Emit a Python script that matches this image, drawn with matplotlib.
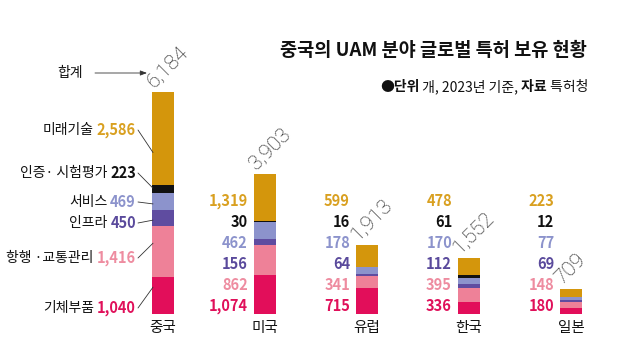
import matplotlib
matplotlib.use("Agg")
import matplotlib.pyplot as plt
from matplotlib import transforms as mtransforms
import numpy as np

plt.rcParams['font.family'] = ['Noto Sans CJK KR', 'DejaVu Sans']

countries = ["중국", "미국", "유럽", "한국", "일본"]
segments = ["기체부품", "항행·교통관리", "인프라", "서비스", "인증·시험평가", "미래기술"]
china_names = ["기체부품", "항행 ·교통관리", "인프라", "서비스", "인증· 시험평가", "미래기술"]
values = {
    "기체부품":      [1040, 1074, 715, 336, 180],
    "항행·교통관리": [1416, 862, 341, 395, 148],
    "인프라":        [450, 156, 64, 112, 69],
    "서비스":        [469, 462, 178, 170, 77],
    "인증·시험평가": [223, 30, 16, 61, 12],
    "미래기술":      [2586, 1319, 599, 478, 223],
}
totals = [6184, 3903, 1913, 1552, 709]

bar_colors = ["#E20E5A", "#EE8198", "#5F4CA0", "#8C93CC", "#111111", "#D4960C"]
text_colors = ["#E0105A", "#EE8CA0", "#5A4A9C", "#8C93CC", "#111111", "#D9A020"]

fig = plt.figure(figsize=(6.4, 3.48), dpi=100)
ax = fig.add_axes([0, 34/348, 1, 251/348])
ax.set_xlim(-163/102, (640-163)/102)
ax.set_ylim(0, 7000)
ax.axis('off')

x = np.arange(len(countries))
width = 0.216
bottom = np.zeros(len(countries))
for seg, col in zip(segments, bar_colors):
    v = np.array(values[seg], dtype=float)
    ax.bar(x, v, width, bottom=bottom, color=col, linewidth=0)
    bottom += v

# total labels (rotated)
for xi, t in zip(x, totals):
    ax.annotate(f"{t:,}", xy=(xi, t), xytext=(-9, 4), textcoords='offset pixels',
                rotation=45, rotation_mode='anchor', ha='left', va='baseline',
                fontsize=15, fontweight='light', color='#1a1a1a',
                family=['Roboto', 'DejaVu Sans'])

# category labels
for xi, c in zip(x, countries):
    ax.annotate(c, xy=(xi, 0), xytext=(0, -14), textcoords='offset pixels',
                ha='center', va='center', fontsize=10.5, color='#111111')

# value labels for non-China
row_offsets = [8, 29, 50, 71, 92, 113]
for i in range(1, len(countries)):
    for k, seg in enumerate(segments):
        ax.annotate(f"{values[seg][i]:,}", xy=(x[i], 0), xytext=(-17, row_offsets[k]),
                    textcoords='offset pixels', ha='right', va='center',
                    fontsize=10.5, fontweight='bold', color=text_colors[k])

# China labels with names and leader lines
china_offsets = [6, 56, 91, 112, 141, 184]
leader_frac = [0.72, 0.66, 0.36, 0.35, 0.6, 0.35]
cum = 0
for k, seg in enumerate(segments):
    v = values[seg][0]
    vt = ax.annotate(f"{v:,}", xy=(x[0], 0), xytext=(-27, china_offsets[k]),
                     textcoords='offset pixels', ha='right', va='center',
                     fontsize=10.5, fontweight='bold', color=text_colors[k])
    ax.annotate(china_names[k], xy=(0, 0.5), xycoords=vt, xytext=(-3, 0),
                textcoords='offset pixels', ha='right', va='center',
                fontsize=10, color='#111111')
    yend = cum + v * leader_frac[k]
    start_tr = mtransforms.offset_copy(ax.transData, fig=fig, x=-25, y=china_offsets[k], units='dots')
    ax.annotate("", xy=(x[0] - width/2 + 0.01, yend), xytext=(x[0], 0), textcoords=start_tr,
                arrowprops=dict(arrowstyle='-', color='#333333', lw=0.6,
                                shrinkA=0, shrinkB=0))
    cum += v

# 합계 label with arrow
fig.text(83/640, 1 - 73/348, "합계", ha='right', va='center', fontsize=10, color='#111111')
ax.annotate("", xy=(147, 348-73), xycoords='figure pixels', xytext=(95, 348-73),
            textcoords='figure pixels',
            arrowprops=dict(arrowstyle='-|>,head_length=0.4,head_width=0.15', color='#333333',
                            lw=0.6, shrinkA=0, shrinkB=0))

# title
fig.text(587/640, 1 - 51/348, "중국의 UAM 분야 글로벌 특허 보유 현황", ha='right', va='center',
         fontsize=13.4, fontweight='bold', color='#111111')

# subtitle composed of pieces
parts = [("●단위", 'bold'), (" 개, 2023년 기준,", 'normal'), (" 자료", 'bold'), (" 특허청", 'normal')]
prev = fig.text(380/640, 1 - 87/348, parts[0][0], ha='left', va='center', fontsize=10,
                fontweight=parts[0][1], color='#111111')
for txt, w in parts[1:]:
    prev = ax.annotate(txt, xy=(1, 0.5), xycoords=prev, ha='left', va='center',
                       fontsize=10, fontweight=w, color='#111111')

fig.savefig("out.png", dpi=100)
